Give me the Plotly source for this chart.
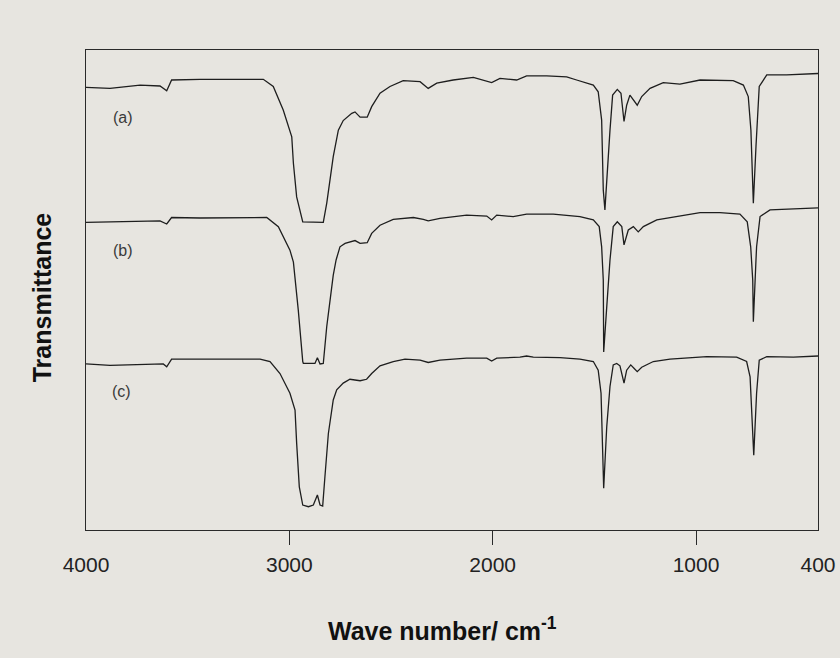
import plotly.graph_objects as go

# FTIR spectra, wavenumber (cm-1) vs transmittance (arbitrary offset units)
wn_a = [4000, 3882, 3734, 3636, 3603, 3579, 3439, 3128, 3079, 3030, 2988, 2980, 2964, 2934,
        2833, 2816, 2784, 2759, 2735, 2693, 2677, 2652, 2617, 2595, 2554, 2505, 2440, 2357,
        2317, 2275, 2194, 2095, 2005, 1964, 1882, 1833, 1734, 1636, 1587, 1505, 1481, 1464,
        1456, 1448, 1423, 1410, 1387, 1369, 1354, 1341, 1325, 1308, 1289, 1267, 1226, 1161,
        1079, 980, 898, 817, 767, 743, 730, 718, 705, 689, 652, 554, 400]
tr_a = [92.2, 92.0, 92.7, 92.5, 91.5, 93.75, 93.9, 93.9, 92.4, 87.5, 81.9, 76.4, 69.4, 64.2,
        64.1, 68.1, 77.8, 83.3, 85.3, 86.8, 87.1, 86.0, 86.0, 88.2, 91.0, 92.4, 93.6, 93.4,
        92.0, 93.1, 93.75, 94.3, 93.2, 94.1, 93.75, 94.6, 94.6, 94.4, 93.75, 92.7, 91.3, 85.4,
        70.8, 66.7, 83.3, 90.6, 91.8, 91.0, 85.1, 88.5, 90.6, 89.6, 88.5, 90.3, 92.0, 93.2,
        92.9, 93.75, 93.75, 93.6, 92.7, 90.3, 83.3, 68.1, 79.9, 92.4, 94.8, 94.8, 95.1]

wn_b = [4000, 3882, 3734, 3636, 3603, 3579, 3439, 3111, 3054, 2997, 2980, 2972, 2956, 2934,
        2931, 2874, 2862, 2849, 2833, 2816, 2800, 2784, 2770, 2751, 2726, 2677, 2652, 2617,
        2595, 2554, 2489, 2390, 2341, 2317, 2259, 2128, 2029, 2005, 1980, 1899, 1833, 1702,
        1571, 1505, 1476, 1464, 1456, 1454, 1440, 1423, 1407, 1387, 1365, 1354, 1333, 1308,
        1284, 1259, 1193, 1095, 980, 882, 784, 748, 731, 721, 718, 705, 702, 685, 636, 400]
tr_b = [64.1, 64.2, 64.4, 64.4, 63.75, 65.1, 65.0, 65.1, 63.2, 58.3, 55.8, 52.5, 45.8, 35.1,
        34.7, 34.7, 35.9, 34.6, 34.7, 42.4, 47.9, 53.1, 56.25, 59.0, 59.7, 60.3, 59.7, 59.85,
        61.8, 63.5, 64.7, 65.1, 64.7, 64.4, 64.9, 65.6, 65.4, 64.6, 65.6, 65.3, 65.8, 65.8,
        65.3, 64.6, 63.2, 59.0, 52.1, 37.1, 45.8, 56.25, 63.2, 64.2, 63.2, 59.4, 62.5, 63.2,
        62.1, 63.2, 64.6, 65.3, 66.1, 66.1, 65.8, 64.2, 59.0, 52.1, 43.4, 56.25, 59.0, 65.3,
        66.7, 67.1]

wn_c = [4000, 3882, 3620, 3603, 3579, 3439, 3144, 3095, 3046, 2997, 2972, 2964, 2951, 2934,
        2906, 2882, 2862, 2849, 2836, 2825, 2808, 2784, 2767, 2735, 2702, 2652, 2620, 2595,
        2554, 2489, 2431, 2357, 2317, 2259, 2128, 2029, 2005, 1980, 1866, 1833, 1800, 1669,
        1571, 1505, 1481, 1467, 1459, 1454, 1439, 1423, 1407, 1390, 1374, 1354, 1341, 1321,
        1305, 1289, 1267, 1210, 1128, 1063, 947, 800, 751, 734, 725, 716, 702, 689, 652, 521,
        400]
tr_c = [34.6, 34.3, 34.6, 34.0, 35.6, 35.6, 35.6, 35.1, 32.6, 28.5, 25.0, 18.1, 9.0, 5.2,
        4.85, 5.2, 7.3, 5.2, 5.0, 11.1, 20.1, 27.1, 29.2, 30.6, 31.4, 31.1, 31.4, 32.6,
        34.2, 35.1, 35.6, 35.4, 34.9, 35.4, 35.8, 35.8, 35.2, 35.8, 36.0, 36.25, 36.0, 35.9,
        35.6, 35.1, 33.3, 28.5, 16.0, 8.7, 21.5, 29.9, 34.4, 34.7, 34.2, 30.6, 33.3, 34.4,
        33.7, 33.0, 33.9, 35.1, 35.6, 35.8, 36.1, 36.0, 35.1, 31.9, 25.0, 15.6, 28.5, 35.4,
        36.1, 36.0, 36.25]

curve_labels = ["(a)", "(b)", "(c)"]
label_wn = [3818, 3818, 3824]
label_tr = [86.0, 58.3, 28.8]

tick_vals = [4000, 3000, 2000, 1000, 400]
tick_text = ["4000", "3000", "2000", "1000", "400"]
mark_vals = [3000, 2000, 1000]

bg = "#e7e5e0"
ink = "#1e1e1e"
font_family = "Liberation Sans, Arial"

fig = go.Figure()
for wn, tr in [(wn_a, tr_a), (wn_b, tr_b), (wn_c, tr_c)]:
    fig.add_trace(go.Scatter(x=wn, y=tr, mode="lines",
                             line=dict(color=ink, width=1.3),
                             showlegend=False, hoverinfo="skip"))

# second x axis only carries the outside tick marks
fig.add_trace(go.Scatter(x=[3000], y=[None], xaxis="x2", mode="lines",
                         showlegend=False, hoverinfo="skip"))

for txt, x, y in zip(curve_labels, label_wn, label_tr):
    fig.add_annotation(x=x, y=y, text=txt, showarrow=False,
                       font=dict(family=font_family, size=16, color="#3a3a3a"))

fig.add_annotation(xref="paper", yref="paper", x=0.4877, y=-0.206,
                   text="<b>Wave number/ cm<sup>-1</sup></b>", showarrow=False,
                   font=dict(family=font_family, size=25, color="#111"),
                   yanchor="middle")
fig.add_annotation(xref="paper", yref="paper", x=-0.060, y=0.485,
                   text="<b>Transmittance</b>", showarrow=False, textangle=-90,
                   font=dict(family=font_family, size=25, color="#111"),
                   xanchor="center", yanchor="middle")

fig.update_layout(
    width=840, height=658,
    margin=dict(l=86, r=22, t=50, b=128, autoexpand=False),
    paper_bgcolor=bg, plot_bgcolor=bg,
    xaxis=dict(range=[4000, 400], showgrid=False, zeroline=False, automargin=False,
               showline=True, mirror=True, linecolor="#2a2a2a", linewidth=1.3,
               tickvals=tick_vals, ticktext=tick_text, ticks="",
               ticklabelstandoff=16,
               tickfont=dict(family=font_family, size=21, color="#222")),
    xaxis2=dict(range=[4000, 400], overlaying="x", side="bottom", showgrid=False,
                zeroline=False, showline=False, tickvals=mark_vals, ticks="outside",
                ticklen=14, tickwidth=1.2, tickcolor="#2a2a2a", showticklabels=False,
                automargin=False),
    yaxis=dict(range=[0, 100], showgrid=False, zeroline=False, showticklabels=False,
               automargin=False, ticks="", showline=True, mirror=True,
               linecolor="#2a2a2a", linewidth=1.3),
)

fig.write_html("out.html")
